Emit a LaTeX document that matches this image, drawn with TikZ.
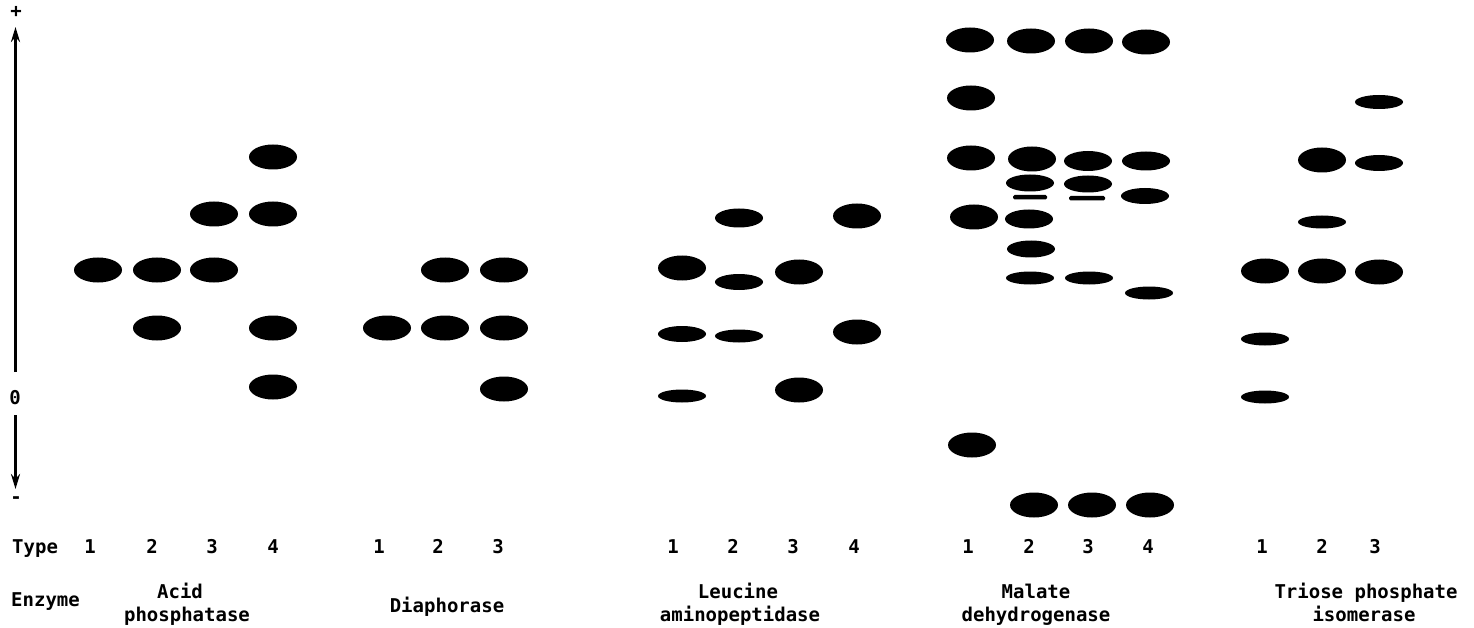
\documentclass[tikz,border=0pt]{standalone}
\usepackage{fontspec}
\newfontfamily\labfont{DejaVu Sans Mono}
\usetikzlibrary{arrows.meta}
\tikzset{
  lab/.style={font=\labfont\bfseries\fontsize{19}{21}\selectfont, inner sep=0pt, anchor=base},
  axisline/.style={line width=2.6pt, -{Stealth[length=15pt,width=9pt]}},
  thinband/.style={fill=black, rounded corners=1.5pt},
}
\newcommand{\bandxy}[3]{\fill (#1,#2) ellipse [x radius=24pt, y radius=#3];}
\begin{document}
\begin{tikzpicture}[x=1pt,y=-1pt]
\useasboundingbox (0,0) rectangle (1474,628);
% axis
\node[lab] (plus) at (16,18) {+};
\node[lab] (zero) at (15,404) {0};
\node[lab] (minus) at (16,503) {-};
\coordinate (uptop) at (15.5,27);
\coordinate (upbot) at (15.5,372);
\coordinate (dntop) at (15.5,415);
\coordinate (dnbot) at (15.5,489);
\draw[axisline] (upbot) -- (uptop);
\draw[axisline] (dntop) -- (dnbot);
% Acid phosphatase
\bandxy{98}{270}{12.5pt}
\bandxy{157}{270}{12.5pt}
\bandxy{157}{328}{12.5pt}
\bandxy{214}{214}{12.5pt}
\bandxy{214}{270}{12.5pt}
\bandxy{273}{157}{12.5pt}
\bandxy{273}{214}{12.5pt}
\bandxy{273}{328}{12.5pt}
\bandxy{273}{387}{12.5pt}
% Diaphorase
\bandxy{387}{328}{12.5pt}
\bandxy{445}{270}{12.5pt}
\bandxy{445}{328}{12.5pt}
\bandxy{504}{270}{12.5pt}
\bandxy{504}{328}{12.5pt}
\bandxy{504}{389}{12.5pt}
% Leucine aminopeptidase
\bandxy{682}{268}{12.5pt}
\bandxy{682}{334}{8pt}
\bandxy{682}{396}{6.5pt}
\bandxy{739}{218}{9.5pt}
\bandxy{739}{282}{8pt}
\bandxy{739}{336}{6.5pt}
\bandxy{799}{272}{12.5pt}
\bandxy{799}{390}{12.5pt}
\bandxy{857}{216}{12.5pt}
\bandxy{857}{332}{12.5pt}
% Malate dehydrogenase
\bandxy{970}{40}{12.5pt}
\bandxy{971}{98}{12.5pt}
\bandxy{971}{158}{12.5pt}
\bandxy{974}{217}{12.5pt}
\bandxy{972}{445}{12.5pt}
\bandxy{1031}{41}{12.5pt}
\bandxy{1032}{159}{12.5pt}
\bandxy{1030}{183}{8.5pt}
\fill[thinband] (1013,195) rectangle (1047,199.5);
\bandxy{1029}{219}{9.5pt}
\bandxy{1031}{249}{8.5pt}
\bandxy{1030}{278}{6.5pt}
\bandxy{1034}{505}{12.5pt}
\bandxy{1089}{41}{12.5pt}
\bandxy{1088}{161}{10pt}
\bandxy{1088}{184}{8.5pt}
\fill[thinband] (1069,196) rectangle (1105,200.5);
\bandxy{1089}{278}{6.5pt}
\bandxy{1092}{505}{12.5pt}
\bandxy{1146}{42}{12.5pt}
\bandxy{1146}{161}{9.5pt}
\bandxy{1145}{196}{8pt}
\bandxy{1149}{293}{6.5pt}
\bandxy{1150}{505}{12.5pt}
% Triose phosphate isomerase
\bandxy{1265}{271}{12.5pt}
\bandxy{1265}{339}{6.5pt}
\bandxy{1265}{397}{6.5pt}
\bandxy{1322}{160}{12.5pt}
\bandxy{1322}{222}{6.5pt}
\bandxy{1322}{271}{12.5pt}
\bandxy{1379}{102}{7pt}
\bandxy{1379}{163}{8pt}
\bandxy{1379}{272}{12.5pt}
% Type row
\node[lab, anchor=base west] (type) at (12,553) {Type};
\node[lab] (a1) at (90,553) {1};
\node[lab] (a2) at (152,553) {2};
\node[lab] (a3) at (212,553) {3};
\node[lab] (a4) at (273,553) {4};
\node[lab] (d1) at (379,553) {1};
\node[lab] (d2) at (438,553) {2};
\node[lab] (d3) at (498,553) {3};
\node[lab] (l1) at (673,553) {1};
\node[lab] (l2) at (733,553) {2};
\node[lab] (l3) at (793,553) {3};
\node[lab] (l4) at (854,553) {4};
\node[lab] (m1) at (968,553) {1};
\node[lab] (m2) at (1029,553) {2};
\node[lab] (m3) at (1088,553) {3};
\node[lab] (m4) at (1148,553) {4};
\node[lab] (t1) at (1262,553) {1};
\node[lab] (t2) at (1322,553) {2};
\node[lab] (t3) at (1375,553) {3};
% Enzyme row
\node[lab, anchor=base west] (enz) at (11,606) {Enzyme};
\node[lab] (ap1) at (180,598) {Acid};
\node[lab] (ap2) at (187,621) {phosphatase};
\node[lab] (dia) at (447,612) {Diaphorase};
\node[lab] (la1) at (738,598) {Leucine};
\node[lab] (la2) at (740,621) {aminopeptidase};
\node[lab] (md1) at (1036,598) {Malate};
\node[lab] (md2) at (1036,621) {dehydrogenase};
\node[lab] (tp1) at (1366,598) {Triose phosphate};
\node[lab] (tp2) at (1364,621) {isomerase};
\end{tikzpicture}
\end{document}
